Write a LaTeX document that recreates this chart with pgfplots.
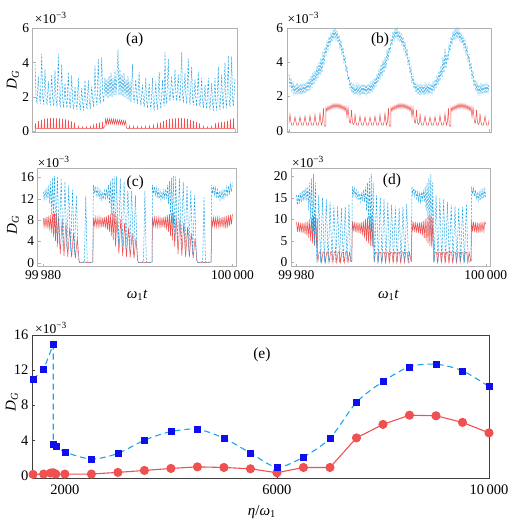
\documentclass[border=0pt]{standalone}
\usepackage{fontspec}
\setmainfont{Liberation Serif}
\usepackage{pgfplots}
\pgfplotsset{compat=1.18}
\definecolor{bl}{RGB}{30,165,230}
\definecolor{rd}{RGB}{240,80,80}
\definecolor{sq}{RGB}{15,15,235}
\pgfplotsset{
 panel/.style={scale only axis, anchor=south west, clip=false,
   axis line style={draw=gray!60}, tick style={draw=gray!60},
   tick align=inside, major tick length=3pt,
   xtick pos=left, ytick pos=left,
   /pgf/number format/assume math mode=true, scaled ticks=false,
   tick label style={font=\fontsize{13.5}{14}\selectfont},
   label style={font=\fontsize{15}{16}\selectfont}},
 blu/.style={color=bl, line width=0.5pt, dash pattern=on 2.2pt off 1.4pt},
 rdl/.style={color=rd, line width=0.5pt},
}
\tikzset{
 plab/.style={fill=white, inner sep=1pt, font=\fontsize{15.5}{16}\selectfont},
 sci/.style={anchor=west, inner sep=0pt, font=\fontsize{13.5}{14}\selectfont},
}
\newcommand{\DG}{\textit{D}\textsubscript{\textit{G}}}
\begin{document}
\begin{tikzpicture}
\useasboundingbox (0,0) rectangle (514pt,523pt);
% ---------------- (a)
\begin{axis}[panel, at={(32.7pt,391pt)}, width=204pt, height=103.7pt,
  xmin=-0.23, xmax=20.17, ymin=-0.05, ymax=6, xtick={0,20}, xticklabels={}, ytick={0,2,4,6},
  ylabel={\DG}, ylabel style={at={(axis description cs:-0.097,0.5)}, anchor=center}]
\addplot[rdl] coordinates {(0,0.15)(0.05,0.45)(0.1,0.15)(0.3,0.15)(0.35,0.58)(0.4,0.15)(0.6,0.15)(0.65,0.66)(0.7,0.15)(0.9,0.15)(0.95,0.72)(1.0,0.15)(1.2,0.15)(1.25,0.75)(1.3,0.15)(1.5,0.15)(1.55,0.76)(1.6,0.15)(1.8,0.15)(1.85,0.76)(1.9,0.15)(2.1,0.15)(2.15,0.75)(2.2,0.15)(2.4,0.15)(2.45,0.74)(2.5,0.15)(2.7,0.15)(2.75,0.72)(2.8,0.15)(3.0,0.15)(3.05,0.68)(3.1,0.15)(3.3,0.15)(3.35,0.63)(3.4,0.15)(3.6,0.15)(3.65,0.57)(3.7,0.15)(3.9,0.15)(3.95,0.5)(4.0,0.15)
(4.3,0.15)(4.35,0.28)(4.4,0.15)(4.7,0.15)(4.75,0.25)(4.8,0.15)(5.1,0.15)(5.15,0.25)(5.2,0.15)(5.5,0.15)(5.55,0.27)(5.6,0.15)
(5.8,0.15)(5.85,0.35)(5.9,0.15)(6.1,0.15)(6.15,0.45)(6.2,0.15)(6.4,0.15)(6.45,0.5)(6.5,0.15)(6.7,0.15)(6.75,0.52)(6.8,0.15)
(7.0,0.3)(7.05,0.72)(7.15,0.4)(7.25,0.73)(7.35,0.42)(7.45,0.72)(7.55,0.42)(7.65,0.71)(7.75,0.42)(7.85,0.7)(7.95,0.41)(8.05,0.69)(8.15,0.41)(8.25,0.67)(8.35,0.4)(8.45,0.66)(8.55,0.4)(8.65,0.64)(8.75,0.38)(8.85,0.62)(8.95,0.36)(9.05,0.6)(9.15,0.2)(9.2,0.15)
(9.4,0.15)(9.45,0.3)(9.5,0.15)(9.8,0.15)(9.85,0.28)(9.9,0.15)(10.2,0.15)(10.25,0.27)(10.3,0.15)(10.6,0.15)(10.65,0.26)(10.7,0.15)(11.0,0.15)(11.05,0.27)(11.1,0.15)(11.4,0.15)(11.45,0.3)(11.5,0.15)(11.8,0.15)(11.85,0.35)(11.9,0.15)(12.2,0.15)(12.25,0.42)(12.3,0.15)
(12.5,0.15)(12.55,0.5)(12.6,0.15)(12.8,0.15)(12.85,0.58)(12.9,0.15)(13.1,0.15)(13.15,0.64)(13.2,0.15)(13.4,0.15)(13.45,0.7)(13.5,0.15)(13.7,0.15)(13.75,0.73)(13.8,0.15)(14.0,0.15)(14.05,0.75)(14.1,0.15)(14.3,0.15)(14.35,0.76)(14.4,0.15)(14.6,0.15)(14.65,0.76)(14.7,0.15)(14.9,0.15)(14.95,0.74)(15.0,0.15)(15.2,0.15)(15.25,0.7)(15.3,0.15)(15.5,0.15)(15.55,0.66)(15.6,0.15)(15.8,0.15)(15.85,0.6)(15.9,0.15)(16.1,0.15)(16.15,0.52)(16.2,0.15)(16.4,0.15)(16.45,0.45)(16.5,0.15)
(16.8,0.15)(16.85,0.28)(16.9,0.15)(17.2,0.15)(17.25,0.25)(17.3,0.15)(17.6,0.15)(17.65,0.27)(17.7,0.15)
(18.0,0.15)(18.05,0.45)(18.1,0.15)(18.3,0.15)(18.35,0.5)(18.4,0.15)(18.6,0.15)(18.65,0.52)(18.7,0.15)(18.9,0.15)(18.95,0.55)(19.0,0.15)(19.2,0.15)(19.25,0.6)(19.3,0.15)(19.5,0.15)(19.55,0.68)(19.6,0.15)(19.8,0.15)(19.85,0.74)(19.9,0.15)(20,0.15)};
\addplot[blu] coordinates {(0,3.9)(0.1,2.05)(0.2,1.6)(0.33,3.2)(0.43,2.03)(0.53,1.58)(0.67,4.5)(0.77,2.0)(0.87,1.55)(1.0,3.6)(1.1,1.97)(1.2,1.52)(1.33,2.9)(1.43,1.95)(1.53,1.5)(1.67,3.3)(1.77,1.92)(1.87,1.47)(2.0,3.55)(2.1,1.88)(2.2,1.43)(2.33,4.5)(2.43,1.85)(2.53,1.4)(2.67,3.9)(2.77,1.82)(2.87,1.37)(3.0,2.8)(3.1,1.8)(3.2,1.35)(3.33,3.45)(3.43,1.77)(3.53,1.32)(3.67,3.25)(3.77,1.73)(3.87,1.28)(4.0,2.6)(4.1,1.7)(4.2,1.25)(4.33,3.1)(4.43,1.67)(4.53,1.22)(4.67,2.5)(4.77,1.65)(4.87,1.2)(5.0,2.96)(5.1,1.7)(5.2,1.25)(5.33,2.96)(5.43,1.75)(5.53,1.3)(5.67,2.6)(5.77,1.85)(5.87,1.4)(6.0,3.8)(6.1,1.95)(6.2,1.5)(6.33,4.2)(6.43,2.05)(6.53,1.6)(6.67,4.3)(6.77,2.15)(6.87,1.7)(7.0,3.1)
(7.1,2.0)(7.2,3.0)(7.3,1.9)(7.4,3.2)(7.5,2.0)(7.6,3.4)(7.7,2.0)(7.8,3.1)(7.9,2.1)(8.0,3.5)(8.1,2.1)(8.2,3.3)(8.3,4.75)(8.4,2.1)(8.5,3.6)(8.6,2.1)(8.7,3.3)(8.8,2.0)(8.9,3.4)(9.0,2.0)(9.1,3.0)(9.2,1.9)(9.3,3.2)(9.4,1.8)(9.5,2.9)(9.6,1.7)
(9.75,3.9)(9.83,2.1)(9.92,1.65)(10.08,3.0)(10.16,2.05)(10.25,1.6)(10.42,3.45)(10.5,1.95)(10.59,1.5)(10.75,2.7)(10.83,1.85)(10.92,1.4)(11.08,3.1)(11.16,1.8)(11.25,1.35)(11.42,2.8)(11.5,1.7)(11.59,1.25)(11.75,3.1)(11.83,1.65)(11.92,1.2)(12.08,2.9)(12.16,1.7)(12.25,1.25)(12.42,3.45)(12.5,1.75)(12.59,1.3)(12.75,3.0)(12.83,1.9)(12.92,1.45)(13.0,4.6)(13.08,2.05)(13.17,1.6)(13.33,4.2)(13.41,2.2)(13.5,1.75)(13.67,3.2)(13.75,2.25)(13.84,1.8)(14.0,3.6)(14.08,2.2)(14.17,1.75)(14.33,3.3)(14.41,2.15)(14.5,1.7)(14.67,4.6)(14.75,2.1)(14.84,1.65)(15.0,3.4)(15.08,2.05)(15.17,1.6)(15.33,4.25)(15.41,2.0)(15.5,1.55)(15.67,3.75)(15.75,1.95)(15.84,1.5)(16.0,3.0)(16.08,1.9)(16.17,1.45)(16.33,3.45)(16.41,1.85)(16.5,1.4)(16.67,3.1)(16.75,1.8)(16.84,1.35)(17.0,2.7)(17.08,1.75)(17.17,1.3)(17.33,3.1)(17.41,1.7)(17.5,1.25)(17.67,2.8)(17.75,1.65)(17.84,1.2)(18.0,3.1)(18.08,1.65)(18.17,1.2)(18.33,3.75)(18.41,1.7)(18.5,1.25)(18.67,3.3)(18.75,1.75)(18.84,1.3)(19.0,4.0)(19.08,1.8)(19.17,1.35)(19.33,4.4)(19.41,1.85)(19.5,1.4)(19.67,4.35)(19.75,1.9)(19.84,1.45)(20.0,3.1)};
\node[plab] at (rel axis cs:0.5,0.887) {(a)};
\node[sci] at (rel axis cs:0.01,1.10) {×10\textsuperscript{−3}};
\end{axis}
% ---------------- (b)
\begin{axis}[panel, at={(286.7pt,391pt)}, width=204.3pt, height=103.7pt,
  xmin=-0.23, xmax=20.2, ymin=-0.08, ymax=6, xtick={0,20}, xticklabels={}, ytick={0,2,4,6}]
\addplot[rdl] coordinates {(0,0.45)(0.1,0.95)(0.18,0.55)(0.28,0.32)(0.42,0.32)(0.52,0.55)(0.6,0.8)(0.68,0.55)(0.78,0.32)(0.92,0.32)(1.02,0.55)(1.1,0.82)(1.18,0.55)(1.28,0.32)(1.42,0.32)(1.52,0.55)(1.6,0.85)(1.68,0.55)(1.78,0.32)(1.92,0.32)(2.02,0.55)(2.1,0.9)(2.18,0.55)(2.28,0.32)(2.42,0.32)(2.52,0.55)(2.6,0.95)(2.68,0.55)(2.78,0.32)(2.92,0.32)(3.02,0.55)(3.1,1.05)(3.18,0.55)(3.25,0.32)(3.35,0.55)(3.45,1.3)(3.52,0.3)(3.62,0.25)(3.68,0.3)
(3.7,1.35)(3.8,1.15)(3.9,1.42)(4.0,1.2)(4.1,1.48)(4.2,1.25)(4.3,1.53)(4.4,1.3)(4.5,1.57)(4.6,1.32)(4.7,1.58)(4.8,1.33)(4.9,1.57)(5.0,1.3)(5.1,1.55)(5.2,1.27)(5.3,1.5)(5.4,1.22)(5.5,1.45)(5.6,1.15)(5.7,1.4)
(5.8,0.8)(5.9,1.35)(6.05,0.5)(6.15,0.45)(6.25,1.2)(6.35,0.45)(6.45,0.35)(6.55,0.5)
(6.6,1.0)(6.68,0.55)(6.78,0.32)(6.92,0.32)(7.02,0.55)(7.1,0.85)(7.18,0.55)(7.28,0.32)(7.42,0.32)(7.52,0.55)(7.6,0.8)(7.68,0.55)(7.78,0.32)(7.92,0.32)(8.02,0.55)(8.1,0.8)(8.18,0.55)(8.28,0.32)(8.42,0.32)(8.52,0.55)(8.6,0.85)(8.68,0.55)(8.78,0.32)(8.92,0.32)(9.02,0.55)(9.1,0.95)(9.18,0.55)(9.28,0.32)(9.42,0.32)(9.52,0.55)(9.6,1.05)(9.68,0.55)(9.75,0.32)(9.85,0.55)(9.95,1.3)(10.02,0.3)(10.12,0.25)(10.18,0.3)
(10.2,1.35)(10.3,1.15)(10.4,1.42)(10.5,1.2)(10.6,1.48)(10.7,1.25)(10.8,1.53)(10.9,1.3)(11.0,1.57)(11.1,1.32)(11.2,1.58)(11.3,1.33)(11.4,1.57)(11.5,1.3)(11.6,1.55)(11.7,1.27)(11.8,1.5)(11.9,1.22)(12.0,1.45)(12.1,1.15)(12.2,1.4)
(12.3,0.8)(12.4,1.35)(12.55,0.5)(12.65,0.45)(12.75,1.2)(12.85,0.45)(12.95,0.35)(13.05,0.5)
(13.1,1.0)(13.18,0.55)(13.28,0.32)(13.42,0.32)(13.52,0.55)(13.6,0.85)(13.68,0.55)(13.78,0.32)(13.92,0.32)(14.02,0.55)(14.1,0.8)(14.18,0.55)(14.28,0.32)(14.42,0.32)(14.52,0.55)(14.6,0.82)(14.68,0.55)(14.78,0.32)(14.92,0.32)(15.02,0.55)(15.1,0.9)(15.18,0.55)(15.28,0.32)(15.42,0.32)(15.52,0.55)(15.6,1.0)(15.68,0.55)(15.75,0.32)(15.85,0.55)(15.95,1.3)(16.02,0.3)(16.12,0.25)(16.18,0.3)
(16.2,1.35)(16.3,1.15)(16.4,1.42)(16.5,1.2)(16.6,1.48)(16.7,1.25)(16.8,1.53)(16.9,1.3)(17.0,1.57)(17.1,1.32)(17.2,1.58)(17.3,1.33)(17.4,1.57)(17.5,1.3)(17.6,1.55)(17.7,1.27)(17.8,1.5)(17.9,1.22)(18.0,1.45)(18.1,1.15)(18.2,1.4)
(18.3,0.8)(18.4,1.35)(18.55,0.5)(18.65,0.45)(18.75,1.2)(18.85,0.45)(18.95,0.35)(19.05,0.5)
(19.1,1.0)(19.18,0.55)(19.28,0.32)(19.42,0.32)(19.52,0.55)(19.6,0.85)(19.68,0.55)(19.78,0.32)(19.92,0.32)(20.0,0.6)};
\addplot[blu] coordinates {(0.0,3.3)(0.1,2.6)(0.2,3.0)(0.3,2.35)(0.4,2.8)(0.5,2.18)(0.6,2.7)(0.7,2.12)(0.8,2.8)(0.9,2.12)(1.0,2.7)(1.1,2.12)(1.2,2.75)(1.3,2.12)(1.4,2.7)(1.5,2.18)(1.6,2.8)(1.7,2.22)(1.8,2.9)(1.9,2.28)(2.0,3.0)(2.1,2.38)(2.2,3.2)(2.3,2.52)(2.4,3.4)(2.5,2.7)(2.6,3.5)(2.7,2.9)(2.8,3.8)(2.9,3.1)(3.0,4.0)(3.1,3.25)(3.2,4.25)(3.3,3.4)(3.4,4.6)(3.5,3.85)(3.6,4.9)(3.7,4.4)(3.8,5.2)(3.9,4.75)(4.0,5.5)(4.1,5.0)(4.2,5.7)(4.3,5.2)(4.4,5.9)(4.5,5.35)(4.6,6.0)(4.7,5.35)(4.8,5.85)(4.9,5.15)(5.0,5.6)(5.1,4.85)(5.2,5.3)(5.3,4.45)(5.4,4.9)(5.5,3.95)(5.6,4.4)(5.7,3.45)(5.8,3.8)(5.9,2.95)(6.0,3.2)(6.1,2.5)(6.2,2.85)(6.3,2.22)(6.4,2.7)(6.5,2.12)(6.6,2.6)(6.7,2.1)(6.8,2.7)(6.9,2.15)(7.0,2.65)(7.1,2.1)(7.2,2.7)(7.3,2.12)(7.4,2.75)(7.5,2.1)(7.6,2.7)(7.7,2.15)(7.8,2.7)(7.9,2.12)(8.0,2.75)(8.1,2.18)(8.2,2.8)(8.3,2.25)(8.4,2.9)(8.5,2.4)(8.6,3.1)(8.7,2.6)(8.8,3.3)(8.9,2.8)(9.0,3.6)(9.1,3.0)(9.2,3.9)(9.3,3.2)(9.4,4.1)(9.5,3.4)(9.6,4.3)(9.7,3.65)(9.8,4.7)(9.9,4.1)(10.0,5.0)(10.1,4.6)(10.2,5.4)(10.3,5.0)(10.4,5.8)(10.5,5.3)(10.6,5.95)(10.7,5.4)(10.8,5.95)(10.9,5.35)(11.0,5.85)(11.1,5.2)(11.2,5.7)(11.3,5.0)(11.4,5.5)(11.5,4.75)(11.6,5.2)(11.7,4.35)(11.8,4.8)(11.9,3.85)(12.0,4.3)(12.1,3.35)(12.2,3.7)(12.3,2.85)(12.4,3.2)(12.5,2.45)(12.6,2.85)(12.7,2.22)(12.8,2.7)(12.9,2.12)(13.0,2.7)(13.1,2.1)(13.2,2.75)(13.3,2.12)(13.4,2.7)(13.5,2.1)(13.6,2.7)(13.7,2.15)(13.8,2.75)(13.9,2.12)(14.0,2.7)(14.1,2.15)(14.2,2.75)(14.3,2.2)(14.4,2.8)(14.5,2.3)(14.6,3.0)(14.7,2.5)(14.8,3.2)(14.9,2.7)(15.0,3.5)(15.1,2.9)(15.2,3.8)(15.3,3.15)(15.4,4.3)(15.5,3.4)(15.6,4.8)(15.7,3.65)(15.8,4.5)(15.9,4.1)(16.0,5.0)(16.1,4.65)(16.2,5.5)(16.3,5.05)(16.4,5.8)(16.5,5.3)(16.6,5.95)(16.7,5.4)(16.8,5.95)(16.9,5.38)(17.0,5.9)(17.1,5.28)(17.2,5.75)(17.3,5.1)(17.4,5.55)(17.5,4.85)(17.6,5.3)(17.7,4.5)(17.8,4.9)(17.9,4.05)(18.0,4.5)(18.1,3.55)(18.2,4.0)(18.3,3.05)(18.4,3.5)(18.5,2.6)(18.6,3.0)(18.7,2.3)(18.8,2.8)(18.9,2.18)(19.0,2.7)(19.1,2.15)(19.2,2.7)(19.3,2.12)(19.4,2.75)(19.5,2.15)(19.6,2.7)(19.7,2.18)(19.8,2.7)(19.9,2.25)(20.0,2.75)};
\node[plab] at (rel axis cs:0.457,0.887) {(b)};
\node[sci] at (rel axis cs:0.003,1.10) {×10\textsuperscript{−3}};
\end{axis}
% ---------------- (c)
\begin{axis}[panel, at={(37.7pt,256.3pt)}, width=199pt, height=98.4pt,
  xmin=-0.58, xmax=20.45, ymin=-0.75, ymax=17.7, xtick={0,20}, xticklabels={99\,980,100\,000}, ytick={0,4,8,12,16},
  ylabel={\DG}, ylabel style={at={(axis description cs:-0.124,0.42)}, anchor=center},
  xlabel={\textit{ω}\textsubscript{1}\textit{t}}, xlabel style={at={(axis description cs:0.5,-0.29)}, anchor=center}]
\addplot[rdl] coordinates {(0,8.4)(0.1,6.7)(0.2,8.5)(0.3,6.6)(0.4,8.6)(0.5,6.4)(0.6,8.8)(0.7,6.0)(0.8,9.0)(0.9,5.6)(1.0,9.2)(1.1,4.8)(1.2,9.3)(1.3,4.1)(1.4,9.4)(1.5,3.0)(1.6,8.8)(1.8,1.6)(2.0,8.2)(2.2,1.3)(2.4,7.4)(2.6,1.1)(2.8,6.6)(3.0,1.0)(3.2,5.6)(3.4,0.8)(3.6,4.6)(3.8,0.3)(3.9,0)(4.1,0)(4.3,0.2)(4.5,0)(4.7,0.1)(4.9,0)(5.1,0.1)(5.25,0.1)
(5.3,8.4)(5.4,6.9)(5.5,8.5)(5.6,6.8)(5.7,8.4)(5.8,6.7)(5.9,8.5)(6.0,6.8)(6.1,8.4)(6.2,6.6)(6.3,8.5)(6.4,6.7)(6.5,8.6)(6.6,6.5)(6.7,8.7)(6.8,6.2)(6.9,8.9)(7.0,5.8)(7.1,9.1)(7.2,5.0)(7.3,9.3)(7.4,4.2)(7.5,9.4)(7.65,3.0)(7.8,8.8)(8.0,1.6)(8.2,8.2)(8.4,1.3)(8.6,7.4)(8.8,1.1)(9.0,6.6)(9.2,1.0)(9.4,5.6)(9.6,0.8)(9.8,4.6)(10.0,0.3)(10.1,0)(10.3,0)(10.5,0.2)(10.7,0)(10.9,0.1)(11.1,0)(11.3,0.1)(11.5,0.1)
(11.55,8.4)(11.65,6.9)(11.75,8.5)(11.85,6.8)(11.95,8.4)(12.05,6.7)(12.15,8.5)(12.25,6.8)(12.35,8.4)(12.45,6.6)(12.55,8.5)(12.65,6.7)(12.75,8.6)(12.85,6.5)(12.95,8.7)(13.05,6.2)(13.15,8.9)(13.25,5.8)(13.35,9.1)(13.45,5.0)(13.55,9.3)(13.65,4.2)(13.75,9.4)(13.9,3.0)(14.05,8.8)(14.25,1.6)(14.45,8.2)(14.65,1.3)(14.85,7.4)(15.05,1.1)(15.25,6.6)(15.45,1.0)(15.65,5.6)(15.85,0.8)(16.05,4.6)(16.25,0.3)(16.35,0)(16.55,0)(16.75,0.2)(16.95,0)(17.15,0.1)(17.35,0)(17.55,0.1)(17.75,0.1)
(17.8,8.4)(17.9,6.9)(18.0,8.5)(18.1,6.8)(18.2,8.4)(18.3,6.7)(18.4,8.5)(18.5,6.8)(18.6,8.4)(18.7,6.6)(18.8,8.5)(18.9,6.7)(19.0,8.6)(19.1,6.5)(19.2,8.7)(19.3,6.4)(19.4,8.8)(19.5,6.6)(19.6,8.9)(19.7,6.9)(19.8,9.0)(19.9,7.2)(20.0,9.1)};
\addplot[blu] coordinates {(0,13.3)(0.1,11.9)(0.2,13.5)(0.3,12.1)(0.4,13.8)(0.5,12.0)(0.6,14.6)(0.7,11.0)(0.8,15.3)(0.9,9.0)(1.0,15.9)(1.1,7.5)(1.2,16.3)(1.35,5.0)(1.5,16.2)(1.7,3.5)(1.9,15.8)(2.1,3.0)(2.3,15.2)(2.5,2.6)(2.7,14.5)(2.9,2.2)(3.1,13.6)(3.3,1.5)(3.5,12.6)(3.7,0.6)(3.85,0)(4.05,0)(4.35,0.1)(4.5,12.5)(4.65,0.1)(4.95,0)(5.25,0.1)
(5.3,14.6)(5.4,13.0)(5.5,14.3)(5.6,12.7)(5.7,14.0)(5.8,12.4)(5.9,13.7)(6.0,12.0)(6.1,13.4)(6.2,11.8)(6.3,13.3)(6.4,11.9)(6.5,13.5)(6.6,12.1)(6.7,13.8)(6.8,12.0)(6.9,14.6)(7.0,11.0)(7.1,15.3)(7.2,9.0)(7.3,15.9)(7.4,7.5)(7.5,16.3)(7.65,5.0)(7.75,16.2)(7.95,3.5)(8.15,15.8)(8.35,3.0)(8.55,15.2)(8.75,2.6)(8.95,14.5)(9.15,2.2)(9.35,13.6)(9.55,1.5)(9.75,12.6)(9.95,0.6)(10.1,0)(10.3,0)(10.6,0.1)(10.75,13.5)(10.9,0.1)(11.2,0)(11.5,0.1)
(11.55,14.6)(11.65,13.0)(11.75,14.3)(11.85,12.7)(11.95,14.0)(12.05,12.4)(12.15,13.7)(12.25,12.0)(12.35,13.4)(12.45,11.8)(12.55,13.3)(12.65,11.9)(12.75,13.5)(12.85,12.1)(12.95,13.8)(13.05,12.0)(13.15,14.6)(13.25,11.0)(13.35,15.3)(13.45,9.0)(13.55,15.9)(13.65,7.5)(13.75,16.3)(13.9,5.0)(14.0,16.2)(14.2,3.5)(14.4,15.8)(14.6,3.0)(14.8,15.2)(15.0,2.6)(15.2,14.5)(15.4,2.2)(15.6,13.6)(15.8,1.5)(16.0,12.6)(16.2,0.6)(16.35,0)(16.55,0)(16.85,0.1)(17.0,12.2)(17.15,0.1)(17.45,0)(17.75,0.1)
(17.8,14.6)(17.9,13.0)(18.0,14.3)(18.1,12.7)(18.2,14.0)(18.3,12.4)(18.4,13.7)(18.5,12.0)(18.6,13.4)(18.7,11.8)(18.8,13.3)(18.9,11.9)(19.0,13.5)(19.1,12.1)(19.2,13.8)(19.3,12.4)(19.4,14.1)(19.5,12.7)(19.6,14.4)(19.7,13.0)(19.8,14.7)(19.9,13.3)(20.0,15.0)};
\node[plab] at (rel axis cs:0.49,0.85) {(c)};
\node[sci] at (rel axis cs:0.0,1.064) {×10\textsuperscript{−3}};
\end{axis}
% ---------------- (d)
\begin{axis}[panel, at={(291pt,256.3pt)}, width=199pt, height=98.4pt,
  xmin=-0.58, xmax=20.45, ymin=-1, ymax=21.8, xtick={0,20}, xticklabels={99\,980,100\,000}, ytick={0,5,10,15,20},
  xlabel={\textit{ω}\textsubscript{1}\textit{t}}, xlabel style={at={(axis description cs:0.49,-0.29)}, anchor=center}]
\addplot[rdl] coordinates {(0,9.4)(0.1,7.1)(0.2,9.3)(0.3,7.0)(0.4,9.2)(0.5,6.9)(0.6,9.2)(0.7,6.8)(0.8,9.2)(0.9,6.6)(1.0,9.3)(1.1,6.2)(1.2,9.6)(1.3,5.6)(1.4,10.0)(1.5,5.0)(1.6,10.4)(1.7,4.4)(1.8,10.8)(1.9,3.8)(2.0,11.0)(2.1,3.5)(2.2,10.2)(2.25,0)(2.4,2.4)(2.55,2.3)(2.65,0)(2.8,2.4)(2.95,2.3)(3.05,0)(3.2,2.4)(3.35,2.3)(3.45,0)(3.6,2.4)(3.75,2.3)(3.85,0)(4.0,2.4)(4.15,2.3)(4.25,0)(4.4,2.4)(4.55,2.3)(4.65,0)(4.8,2.4)(4.95,2.3)(5.05,0)(5.2,2.4)(5.35,2.3)(5.45,0)(5.6,2.3)(5.75,0.3)(5.85,0.3)
(5.9,9.6)(6.0,7.2)(6.1,9.4)(6.2,7.0)(6.3,9.3)(6.4,6.9)(6.5,9.2)(6.6,6.8)(6.7,9.2)(6.8,6.6)(6.9,9.3)(7.0,6.2)(7.1,9.6)(7.2,5.6)(7.3,10.0)(7.4,5.0)(7.5,10.4)(7.6,4.4)(7.7,10.8)(7.8,3.8)(7.9,11.0)(8.0,3.5)(8.1,10.2)(8.2,0)(8.35,2.4)(8.5,2.3)(8.6,0)(8.75,2.4)(8.9,2.3)(9.0,0)(9.15,2.4)(9.3,2.3)(9.4,0)(9.55,2.4)(9.7,2.3)(9.8,0)(9.95,2.4)(10.1,2.3)(10.2,0)(10.35,2.4)(10.5,2.3)(10.6,0)(10.75,2.4)(10.9,2.3)(11.0,0)(11.15,2.4)(11.3,2.3)(11.4,0)(11.55,2.4)(11.7,2.3)(11.8,0)(11.95,2.3)(12.1,0.3)(12.15,0.3)
(12.2,9.6)(12.3,7.2)(12.4,9.4)(12.5,7.0)(12.6,9.3)(12.7,6.9)(12.8,9.2)(12.9,6.8)(13.0,9.2)(13.1,6.6)(13.2,9.3)(13.3,6.2)(13.4,9.6)(13.5,5.6)(13.6,10.0)(13.7,5.0)(13.8,10.4)(13.9,4.4)(14.0,10.8)(14.1,3.8)(14.2,11.0)(14.3,3.5)(14.4,10.2)(14.5,0)(14.65,2.4)(14.8,2.3)(14.9,0)(15.05,2.4)(15.2,2.3)(15.3,0)(15.45,2.4)(15.6,2.3)(15.7,0)(15.85,2.4)(16.0,2.3)(16.1,0)(16.25,2.4)(16.4,2.3)(16.5,0)(16.65,2.4)(16.8,2.3)(16.9,0)(17.05,2.4)(17.2,2.3)(17.3,0)(17.45,2.4)(17.6,2.3)(17.7,0)(17.85,2.4)(18.0,2.3)(18.1,0)(18.25,2.3)(18.4,0.3)(18.45,0.3)
(18.5,9.6)(18.6,7.2)(18.7,9.4)(18.8,7.0)(18.9,9.3)(19.0,6.9)(19.1,9.2)(19.2,6.8)(19.3,9.2)(19.4,6.9)(19.5,9.3)(19.6,7.0)(19.7,9.3)(19.8,7.2)(19.9,9.4)(20.0,8.8)};
\addplot[blu] coordinates {(0,15.6)(0.1,13.3)(0.2,15.8)(0.3,13.6)(0.4,16.1)(0.5,14.0)(0.6,16.5)(0.7,14.3)(0.8,16.9)(0.9,14.5)(1.0,17.3)(1.1,14.2)(1.2,17.6)(1.3,12.0)(1.4,18.5)(1.5,10.0)(1.6,19.5)(1.7,7.0)(1.8,20.5)(1.9,4.0)(2.0,18.5)(2.15,0)(2.35,15.5)(2.55,0)(2.75,15.0)(2.95,0)(3.15,14.6)(3.35,0)(3.55,14.0)(3.75,0)(3.95,13.4)(4.15,0)(4.35,13.0)(4.55,0)(4.75,12.6)(4.95,0)(5.15,12.8)(5.35,0)(5.55,13.5)(5.7,0)(5.85,0.2)
(5.9,17.6)(6.0,15.8)(6.1,17.2)(6.2,15.3)(6.3,16.8)(6.4,14.8)(6.5,16.3)(6.6,14.3)(6.7,16.0)(6.8,14.0)(6.9,16.3)(7.0,14.2)(7.1,16.8)(7.2,14.0)(7.3,17.5)(7.4,12.0)(7.5,18.5)(7.6,10.0)(7.7,19.5)(7.8,7.0)(7.9,20.5)(8.0,4.0)(8.1,18.5)(8.25,0)(8.45,15.5)(8.65,0)(8.85,15.0)(9.05,0)(9.25,14.6)(9.45,0)(9.65,14.0)(9.85,0)(10.05,13.4)(10.25,0)(10.45,13.0)(10.65,0)(10.85,12.6)(11.05,0)(11.25,12.8)(11.45,0)(11.65,13.5)(11.85,0)(12.0,0.2)(12.15,0.2)
(12.2,17.6)(12.3,15.8)(12.4,17.2)(12.5,15.3)(12.6,16.8)(12.7,14.8)(12.8,16.3)(12.9,14.3)(13.0,16.0)(13.1,14.0)(13.2,16.3)(13.3,14.2)(13.4,16.8)(13.5,14.0)(13.6,17.5)(13.7,12.0)(13.8,18.5)(13.9,10.0)(14.0,19.5)(14.1,7.0)(14.2,20.5)(14.3,4.0)(14.4,18.5)(14.55,0)(14.75,15.5)(14.95,0)(15.15,15.0)(15.35,0)(15.55,14.6)(15.75,0)(15.95,14.0)(16.15,0)(16.35,13.4)(16.55,0)(16.75,13.0)(16.95,0)(17.15,12.6)(17.35,0)(17.55,12.8)(17.75,0)(17.95,13.5)(18.15,0)(18.3,0.2)(18.45,0.2)
(18.5,17.6)(18.6,15.8)(18.7,17.2)(18.8,15.3)(18.9,16.8)(19.0,14.8)(19.1,16.3)(19.2,14.3)(19.3,16.2)(19.4,14.3)(19.5,16.5)(19.6,14.6)(19.7,16.8)(19.8,14.9)(19.9,17.0)(20.0,15.2)};
\node[plab] at (rel axis cs:0.507,0.87) {(d)};
\node[sci] at (rel axis cs:0.005,1.064) {×10\textsuperscript{−3}};
\end{axis}
% ---------------- (e)
\begin{axis}[panel, at={(32pt,45pt)}, width=457pt, height=143pt,
  axis line style={draw=black!75}, tick style={draw=black!75},
  tick label style={font=\fontsize{14.5}{15}\selectfont},
  xmin=1380, xmax=10000, ymin=-0.3, ymax=16,
  xtick={2000,6000,10000}, xticklabels={2000,6000,10\,000}, xticklabel style={yshift=-3pt},
  ytick={0,4,8,12,16},
  ylabel={\DG}, ylabel style={at={(axis description cs:-0.044,0.53)}, anchor=center},
  xlabel={\textit{η}/\textit{ω}\textsubscript{1}}, xlabel style={at={(axis description cs:0.503,-0.238)}, anchor=center}]
\addplot[color=bl, line width=1.1pt, dash pattern=on 6pt off 4pt] coordinates {(1400,10.95)(1600,12.1)(1780,14.9)(1780,3.56)};
\addplot[color=bl, line width=1.1pt, dash pattern=on 6pt off 4pt, smooth, tension=0.5] coordinates {(1780,3.56)(1830,3.34)(2000,2.66)(2500,1.87)(3000,2.5)(3500,4.01)(4000,4.99)(4500,5.25)(5000,4.24)(5500,2.55)(6000,0.94)(6500,2.1)(7000,4.24)(7500,8.32)(8000,10.69)(8500,12.37)(9000,12.67)(9500,11.92)(10000,10.12)};
\addplot[color=rd, line width=1.1pt, mark=*, mark size=4pt, mark options={fill=rd, draw=rd}] coordinates {(1400,0.11)(1600,0.15)(1730,0.26)(1780,0.3)(1830,0.15)(2000,0.15)(2500,0.15)(3000,0.34)(3500,0.56)(4000,0.79)(4500,0.97)(5000,0.9)(5500,0.75)(6000,0.3)(6500,0.9)(7000,0.9)(7500,4.27)(8000,5.81)(8500,6.86)(9000,6.79)(9500,6.04)(10000,4.84)};
\addplot[only marks, mark=square*, mark size=3pt, mark options={fill=sq, draw=sq}] coordinates {(1400,10.95)(1600,12.1)(1780,14.9)(1780,3.56)(1830,3.34)(2000,2.66)(2500,1.87)(3000,2.5)(3500,4.01)(4000,4.99)(4500,5.25)(5000,4.24)(5500,2.55)(6000,0.94)(6500,2.1)(7000,4.24)(7500,8.32)(8000,10.69)(8500,12.37)(9000,12.67)(9500,11.92)(10000,10.12)};
\node[plab] at (rel axis cs:0.503,0.86) {(e)};
\node[sci] at (rel axis cs:0.0066,1.049) {×10\textsuperscript{−3}};
\end{axis}
\end{tikzpicture}
\end{document}
